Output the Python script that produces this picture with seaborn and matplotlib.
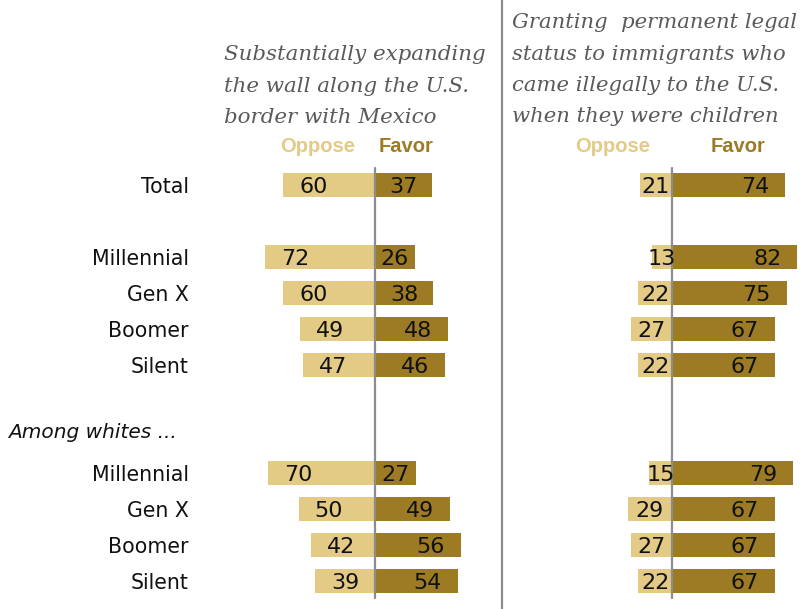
import numpy as np
import pandas as pd
import matplotlib
matplotlib.use("Agg")
import matplotlib.pyplot as plt
import matplotlib.transforms as mtransforms
from matplotlib.lines import Line2D
import seaborn as sns

# ---------------- data ----------------
row_labels = ["Total", "Millennial", "Gen X", "Boomer", "Silent",
              "Millennial", "Gen X", "Boomer", "Silent"]
row_pos = [0, 2, 3, 4, 5, 8, 9, 10, 11]

wall_oppose = [60, 72, 60, 49, 47, 70, 50, 42, 39]
wall_favor = [37, 26, 38, 48, 46, 27, 49, 56, 54]

legal_oppose = [21, 13, 22, 27, 22, 15, 29, 27, 22]
legal_favor = [74, 82, 75, 67, 67, 79, 67, 67, 67]

title_left = ["Substantially expanding", "the wall along the U.S.", "border with Mexico"]
title_right = ["Granting  permanent legal", "status to immigrants who",
               "came illegally to the U.S.", "when they were children"]

OPP_COL = "#E3CA85"
FAV_COL = "#9C7B24"
GRAY = "#8C8C8C"
TITLE_COL = "#5A5A5A"

sns.set_style("white")
plt.rcParams['font.family'] = ['DejaVu Sans']

W, H = 807, 609
fig = plt.figure(figsize=(W / 100, H / 100), dpi=100)

PX_PER_UNIT = 1.53
Y0, ROW = 185, 36  # pixel center of row 0, pixels per row
AX_TOP, AX_BOT = 160, 600


def make_axes(x_left, x_right, center):
    ax = fig.add_axes([x_left / W, (H - AX_BOT) / H, (x_right - x_left) / W, (AX_BOT - AX_TOP) / H])
    ax.set_xlim(-(center - x_left) / PX_PER_UNIT, (x_right - center) / PX_PER_UNIT)
    ax.set_ylim((AX_BOT - Y0) / ROW, (AX_TOP - Y0) / ROW)
    return ax


def draw_panel(ax, oppose, favor):
    df = pd.DataFrame({
        "pos": row_pos * 2,
        "value": [-v for v in oppose] + list(favor),
        "resp": ["Oppose"] * len(oppose) + ["Favor"] * len(favor),
    })
    sns.barplot(data=df, x="value", y="pos", hue="resp", orient="h",
                native_scale=True, dodge=False, width=0.67, errorbar=None,
                saturation=1,
                palette={"Oppose": OPP_COL, "Favor": FAV_COL},
                linewidth=0, legend=False, ax=ax)
    ylo, yhi = AX_BOT - 598, AX_BOT - 168
    ax.axvline(0, ymin=ylo / (AX_BOT - AX_TOP), ymax=yhi / (AX_BOT - AX_TOP),
               color=GRAY, lw=1.6, zorder=5)
    off = 30 / PX_PER_UNIT
    dy = 8.1 / ROW
    for p, o, f in zip(row_pos, oppose, favor):
        ax.text(-o + min(off, o / 2), p + dy, str(o), ha="center", va="baseline",
                fontsize=16, color="#111111", zorder=6)
        ax.text(f - min(off, f / 2), p + dy, str(f), ha="center", va="baseline",
                fontsize=16, color="#111111", zorder=6)
    for s in ax.spines.values():
        s.set_visible(False)
    ax.set_xlabel("")
    ax.set_ylabel("")
    ax.set_xticks([])
    ax.set_ylim((AX_BOT - Y0) / ROW, (AX_TOP - Y0) / ROW)


axL = make_axes(190, 500, 375)
draw_panel(axL, wall_oppose, wall_favor)
axL.set_yticks(row_pos)
axL.set_yticklabels(row_labels, fontsize=14.8, color="#111111")
axL.tick_params(axis="y", length=0, pad=1)

axR = make_axes(505, 807, 672)
draw_panel(axR, legal_oppose, legal_favor)
axR.set_yticks([])

# headers
hy = (146 - Y0) / ROW
hfont = dict(fontsize=14.5, fontweight="bold", family="Liberation Sans",
             va="center", clip_on=False)
axL.text((355 - 375) / PX_PER_UNIT, hy, "Oppose", ha="right", color=OPP_COL, **hfont)
axL.text((379 - 375) / PX_PER_UNIT, hy, "Favor", ha="left", color=FAV_COL, **hfont)
axR.text((613 - 672) / PX_PER_UNIT, hy, "Oppose", ha="center", color=OPP_COL, **hfont)
axR.text((738 - 672) / PX_PER_UNIT, hy, "Favor", ha="center", color=FAV_COL, **hfont)

# "Among whites ..."
tr = mtransforms.blended_transform_factory(fig.transFigure, axL.transData)
axL.text(8 / W, (433 - Y0) / ROW, "Among whites ...", transform=tr, ha="left",
         va="center", fontsize=14.5, style="italic", color="#111111", clip_on=False)

# titles
for i, line in enumerate(title_left):
    fig.text(224 / W, 1 - (60 + 31.5 * i) / H, line, ha="left", va="baseline",
             fontsize=15.4, style="italic", family="DejaVu Serif", color=TITLE_COL)
for i, line in enumerate(title_right):
    fig.text(512 / W, 1 - (28 + 31.5 * i) / H, line, ha="left", va="baseline",
             fontsize=15.2, style="italic", family="DejaVu Serif", color=TITLE_COL)

# separator
fig.add_artist(Line2D([502 / W, 502 / W], [0, 1], transform=fig.transFigure,
                      color=GRAY, lw=1.6))

fig.savefig("out.png", dpi=100)
